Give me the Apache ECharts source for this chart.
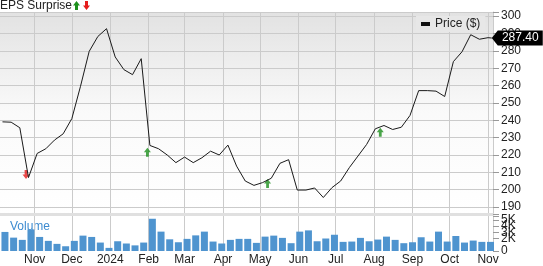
<!DOCTYPE html>
<html><head><meta charset="utf-8">
<script src="https://cdn.jsdelivr.net/npm/echarts@6.0.0/dist/echarts.min.js"></script>
<style>html,body{margin:0;padding:0;background:#fff}#c{width:543px;height:266px}</style>
</head><body><div id="c"></div>
<script>
// ---- data ----
const axisStart = '2023-10-04';
const axisEnd = '2024-11-05';
const monthNames = ['Jan','Feb','Mar','Apr','May','Jun','Jul','Aug','Sep','Oct','Nov','Dec'];

const priceDates = ['2023-10-06','2023-10-13','2023-10-20','2023-10-27','2023-11-03','2023-11-10','2023-11-17','2023-11-24',
  '2023-12-01','2023-12-08','2023-12-15','2023-12-22','2023-12-29','2024-01-05','2024-01-12','2024-01-19','2024-01-26',
  '2024-02-02','2024-02-09','2024-02-16','2024-02-23','2024-03-01','2024-03-08','2024-03-15','2024-03-22','2024-03-29',
  '2024-04-05','2024-04-12','2024-04-19','2024-04-26','2024-05-03','2024-05-10','2024-05-17','2024-05-24','2024-05-31',
  '2024-06-07','2024-06-14','2024-06-21','2024-06-28','2024-07-05','2024-07-12','2024-07-19','2024-07-26',
  '2024-08-02','2024-08-09','2024-08-16','2024-08-23','2024-08-30','2024-09-06','2024-09-13','2024-09-20','2024-09-27',
  '2024-10-04','2024-10-11','2024-10-18','2024-10-25','2024-11-01','2024-11-04'];
const priceValues = [239.1,238.9,235.7,207.0,220.9,223.6,228.6,232.2,
  241.0,259.6,279.7,288.3,292.8,276.5,269.2,266.3,275.5,
  225.5,223.6,220.0,215.6,218.8,215.6,218.4,222.2,220.0,
  225.7,213.6,205.0,202.5,204.1,206.6,215.2,217.3,199.8,
  199.8,201.0,195.5,201.2,205.0,212.7,219.4,226.1,
  235.1,237.0,234.7,236.0,242.8,257.1,257.1,256.8,253.7,
  273.8,279.5,289.3,286.7,287.6,287.40];
const lastPrice = 287.40;

const volumeDates = ['2023-10-08','2023-10-15','2023-10-22','2023-10-29','2023-11-05','2023-11-12','2023-11-19','2023-11-26',
  '2023-12-03','2023-12-10','2023-12-17','2023-12-24','2023-12-31','2024-01-07','2024-01-14','2024-01-21','2024-01-28',
  '2024-02-04','2024-02-11','2024-02-18','2024-02-25','2024-03-03','2024-03-10','2024-03-17','2024-03-24','2024-03-31',
  '2024-04-07','2024-04-14','2024-04-21','2024-04-28','2024-05-05','2024-05-12','2024-05-19','2024-05-26',
  '2024-06-02','2024-06-09','2024-06-16','2024-06-23','2024-06-30','2024-07-07','2024-07-14','2024-07-21','2024-07-28',
  '2024-08-04','2024-08-11','2024-08-18','2024-08-25','2024-09-01','2024-09-08','2024-09-15','2024-09-22','2024-09-29',
  '2024-10-06','2024-10-13','2024-10-20','2024-10-27','2024-11-03'];
const volumeValues = [3.05,2.14,1.78,3.46,2.25,1.62,1.14,0.76,
  1.62,2.46,2.25,1.35,0.5,1.56,1.2,0.9,1.35,
  5.16,3.1,1.87,1.4,1.94,2.5,3.1,1.51,1.2,
  1.78,1.94,1.94,1.3,2.3,2.46,2.1,1.25,
  3.1,3.3,1.56,2.0,2.6,1.46,1.51,2.1,1.56,
  1.83,2.3,1.78,1.25,1.4,2.2,1.51,3.1,1.51,
  2.4,1.35,1.67,1.46,1.46];

const epsBeatDates = ['2024-01-31','2024-05-07','2024-08-06'];
const epsBeatPrices = [221.6,203.6,233.1];
const epsMissDates = ['2023-10-25'];
const epsMissPrices = [208.8];

// ---- build daily category axis ----
const days = [];
(function(){
  const s = Date.parse(axisStart + 'T00:00:00Z'), e = Date.parse(axisEnd + 'T00:00:00Z');
  for (let t = s; t <= e; t += 86400000) days.push(new Date(t).toISOString().slice(0,10));
})();
const isMonthStart = (i, v) => String(v).slice(8) === '01';
const monthLabel = v => { v = String(v); if (v.slice(8) !== '01') return ''; const m = +v.slice(5,7); return m === 1 ? v.slice(0,4) : monthNames[m-1]; };

const UP = 'path://M5,0 L10,5 L7,5 L7,10 L3,10 L3,5 L0,5 Z';
const DOWN = 'path://M5,10 L10,5 L7,5 L7,0 L3,0 L3,5 L0,5 Z';
const FONT = 'Liberation Sans';
const GREEN = '#1c8f1c', RED = '#e51c1c';
const upPts = (x, y) => [[x+3.5,y],[x+7,y+4.5],[x+5,y+4.5],[x+5,y+9],[x+2,y+9],[x+2,y+4.5],[x,y+4.5]];
const downPts = (x, y) => [[x+3.5,y+9],[x+7,y+4.5],[x+5,y+4.5],[x+5,y],[x+2,y],[x+2,y+4.5],[x,y+4.5]];

const chart = echarts.init(document.getElementById('c'), null, {renderer: 'canvas'});
chart.setOption({
  animation: false,
  textStyle: {fontFamily: FONT},
  grid: [
    {left: 0, right: 50, top: 12, height: 202, show: true, borderWidth: 0,
     backgroundColor: new echarts.graphic.LinearGradient(0,0,0,1,[
       {offset:0,color:'#e2e2e2'},{offset:0.5,color:'#fafafa'},{offset:1,color:'#ffffff'}])},
    {left: 0, right: 50, top: 216, height: 36}
  ],
  legend: {
    data: [{name: 'Price ($)', icon: 'rect'}],
    left: 416, top: 16, padding: [2,5,2,5], itemWidth: 9, itemHeight: 4, itemGap: 5,
    backgroundColor: '#e7e7e7',
    textStyle: {fontFamily: FONT, fontSize: 12, color: '#222'}
  },
  xAxis: [
    {type: 'category', gridIndex: 0, data: days, boundaryGap: false,
     axisLine: {show: true, lineStyle: {color: '#e0e0e0', width: 3}},
     axisTick: {show: false}, axisLabel: {show: false},
     splitLine: {show: true, interval: isMonthStart, lineStyle: {color: '#cbcbcb', width: 1}}},
    {type: 'category', gridIndex: 1, data: days, boundaryGap: false,
     axisLine: {show: false}, axisTick: {show: false},
     axisLabel: {show: true, interval: isMonthStart, formatter: monthLabel, fontFamily: FONT, fontSize: 12, color: '#222', margin: 3},
     splitLine: {show: true, interval: isMonthStart, lineStyle: {color: '#cbcbcb', width: 1}}}
  ],
  yAxis: [
    {type: 'value', gridIndex: 0, position: 'right', min: 186, max: 302.4,
     splitNumber: 11, minInterval: 10, maxInterval: 10,
     axisLine: {show: true, lineStyle: {color: '#cbcbcb'}},
     axisTick: {show: true, length: 6, lineStyle: {color: '#999'}},
     axisLabel: {fontFamily: FONT, fontSize: 12, color: '#222', margin: 8,
       formatter: v => (Math.abs(v % 10) < 1e-6 ? String(v) : '')},
     splitLine: {show: true, lineStyle: {color: '#cbcbcb', width: 1}}},
    {type: 'value', gridIndex: 1, position: 'right', min: 0, max: 5.6, interval: 1,
     axisLine: {show: true, lineStyle: {color: '#cbcbcb'}},
     axisTick: {show: true, length: 6, lineStyle: {color: '#999'}},
     axisLabel: {fontFamily: FONT, fontSize: 12, color: '#222', margin: 8, lineHeight: 10,
       showMinLabel: true, showMaxLabel: true, hideOverlap: false,
       formatter: v => (Math.abs(v - Math.round(v)) > 1e-6 ? '' : (v === 0 ? '0' : v + 'K'))},
     splitLine: {show: false}}
  ],
  graphic: [
    {type: 'text', left: 0, top: 0, style: {text: 'EPS Surprise', fontFamily: FONT, fontSize: 12, fill: '#222'}},
    {type: 'polygon', shape: {points: upPts(73, 1)}, style: {fill: GREEN}},
    {type: 'polygon', shape: {points: downPts(83, 1)}, style: {fill: RED}},
    {type: 'text', left: 10, top: 221, style: {text: 'Volume', fontFamily: FONT, fontSize: 12, fill: '#3d8bd0'}}
  ],
  series: [
    {name: 'Volume', type: 'bar', xAxisIndex: 1, yAxisIndex: 1, barWidth: 7,
     itemStyle: {color: '#4f94cf'},
     data: volumeDates.map((d,i) => [d, volumeValues[i]])},
    {name: 'Price ($)', type: 'line', xAxisIndex: 0, yAxisIndex: 0, symbol: 'none', clip: false,
     itemStyle: {color: '#111'}, lineStyle: {color: '#1a1a1a', width: 1},
     data: priceDates.map((d,i) => [d, priceValues[i]]),
     markPoint: {
       symbol: 'path://M0,7.5 L6,0 L51,0 L51,15 L6,15 Z', symbolSize: [51,15], symbolOffset: [25.5, 0],
       itemStyle: {color: '#000'},
       label: {show: true, position: 'inside', offset: [3, 0], color: '#fff', fontFamily: FONT, fontSize: 12,
               formatter: () => lastPrice.toFixed(2)},
       data: [{coord: [priceDates[priceDates.length-1], lastPrice]}]
     }},
    {name: 'Beat', type: 'scatter', xAxisIndex: 0, yAxisIndex: 0, symbol: UP, symbolSize: [7,9],
     itemStyle: {color: GREEN}, data: epsBeatDates.map((d,i) => [d, epsBeatPrices[i]])},
    {name: 'Miss', type: 'scatter', xAxisIndex: 0, yAxisIndex: 0, symbol: DOWN, symbolSize: [7,9],
     itemStyle: {color: RED}, data: epsMissDates.map((d,i) => [d, epsMissPrices[i]])}
  ]
});
</script>
</body></html>
